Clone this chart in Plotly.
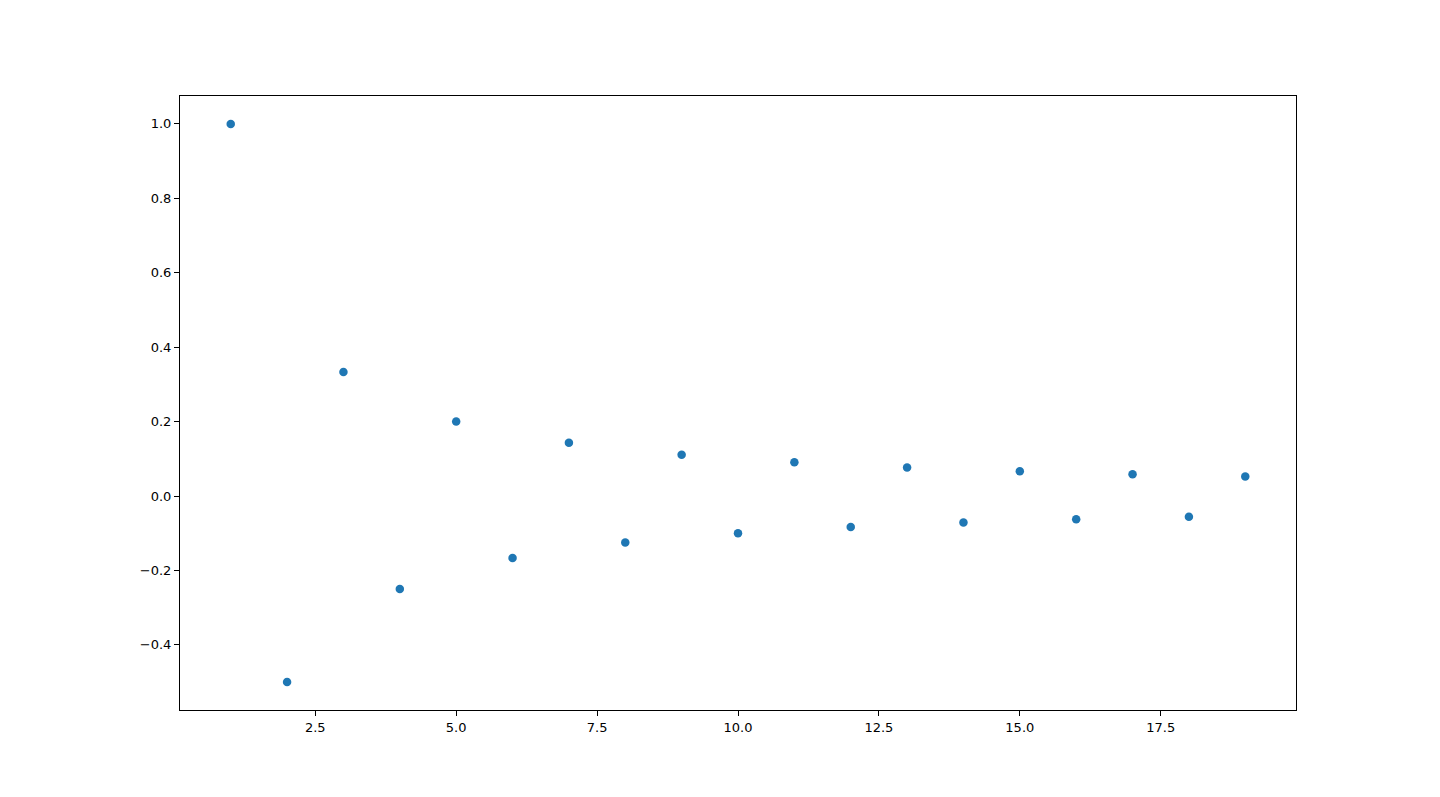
import plotly.graph_objects as go

n_values = [1, 2, 3, 4, 5, 6, 7, 8, 9, 10, 11, 12, 13, 14, 15, 16, 17, 18, 19]
y_values = [1.0, -0.5, 0.3333, -0.25, 0.2, -0.1667, 0.1429, -0.125, 0.1111, -0.1,
            0.0909, -0.0833, 0.0769, -0.0714, 0.0667, -0.0625, 0.0588, -0.0556, 0.0526]

x_tickvals = [2.5, 5.0, 7.5, 10.0, 12.5, 15.0, 17.5]
x_ticktext = ["2.5", "5.0", "7.5", "10.0", "12.5", "15.0", "17.5"]
y_tickvals = [-0.4, -0.2, 0.0, 0.2, 0.4, 0.6, 0.8, 1.0]
y_ticktext = ["\u22120.4", "\u22120.2", "0.0", "0.2", "0.4", "0.6", "0.8", "1.0"]

fig = go.Figure()
fig.add_trace(go.Scatter(
    x=n_values, y=y_values, mode="markers",
    marker=dict(color="#1f77b4", size=8.5, line=dict(width=0)),
    showlegend=False,
))

axis_common = dict(
    showline=True, linecolor="black", linewidth=1, mirror=True,
    ticks="outside", ticklen=5, tickwidth=1, tickcolor="black",
    showgrid=False, zeroline=False,
    tickfont=dict(family="DejaVu Sans", size=13, color="black"),
)

fig.update_layout(
    width=1440, height=797,
    margin=dict(l=172, r=152, t=88, b=95),
    paper_bgcolor="white", plot_bgcolor="white",
    xaxis=dict(range=[0.1, 19.9], tickvals=x_tickvals, ticktext=x_ticktext, **axis_common),
    yaxis=dict(range=[-0.575, 1.075], tickvals=y_tickvals, ticktext=y_ticktext, **axis_common),
)

fig.write_html("out.html")
